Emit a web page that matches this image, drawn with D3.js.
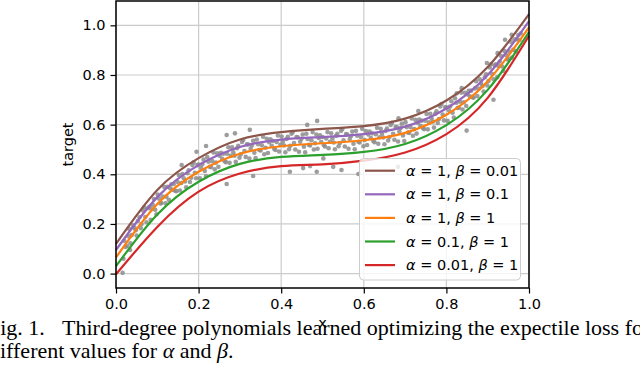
<!DOCTYPE html>
<html>
<head>
<meta charset="utf-8">
<title>Expectile polynomials</title>
<style>
  body { margin: 0; background: #fff; }
  svg { display: block; }
  .tick text { font-family: "DejaVu Sans", sans-serif; font-size: 14.5px; fill: #000; }
  .axislabel { font-family: "DejaVu Sans", sans-serif; font-size: 14.5px; }
  .legend text { font-family: "DejaVu Sans", sans-serif; font-size: 14.5px; }
  .caption { font-family: "Liberation Serif", "Times New Roman", serif; font-size: 22px; }
</style>
</head>
<body>
<svg width="640" height="367"></svg>
<script src="https://cdn.jsdelivr.net/npm/d3@7"></script>
<script>
var xs = [0, 0.1, 0.2, 0.3, 0.4, 0.5, 0.6, 0.7, 0.8, 0.9, 1.0];

// fitted polynomials, read at xs
var brown  = [0.120, 0.337, 0.465, 0.540, 0.570, 0.583, 0.594, 0.624, 0.697, 0.832, 1.045];
var purple = [0.095, 0.308, 0.437, 0.510, 0.540, 0.550, 0.562, 0.592, 0.665, 0.800, 1.017];
var orange = [0.065, 0.280, 0.410, 0.483, 0.513, 0.525, 0.537, 0.567, 0.640, 0.775, 0.992];
var green  = [0.030, 0.238, 0.370, 0.442, 0.470, 0.478, 0.490, 0.522, 0.598, 0.740, 0.973];
var red    = [-0.003, 0.188, 0.330, 0.403, 0.433, 0.440, 0.455, 0.488, 0.562, 0.708, 0.958];

var seriesParts = [["α", " = 1, ", "β", " = 0.01"], ["α", " = 1, ", "β", " = 0.1"], ["α", " = 1, ", "β", " = 1"],
                   ["α", " = 0.1, ", "β", " = 1"], ["α", " = 0.01, ", "β", " = 1"]];
var seriesColors = ["#8c564b", "#9467bd", "#ff7f0e", "#2ca02c", "#d62728"];

// scatter samples (x, target)
var pts = [
[0.020,0.132],[0.027,0.111],[0.032,0.180],[0.038,0.155],[0.045,0.184],[0.050,0.153],[0.057,0.227],[0.062,0.200],
[0.068,0.267],[0.074,0.207],[0.081,0.269],[0.086,0.259],[0.092,0.300],[0.098,0.239],[0.104,0.302],[0.110,0.284],
[0.117,0.349],[0.122,0.310],[0.128,0.297],[0.134,0.360],[0.140,0.361],[0.146,0.332],[0.152,0.397],[0.158,0.365],
[0.164,0.384],[0.170,0.348],[0.176,0.416],[0.182,0.386],[0.188,0.448],[0.194,0.384],[0.200,0.439],[0.206,0.425],
[0.212,0.459],[0.218,0.392],[0.224,0.451],[0.230,0.429],[0.236,0.488],[0.242,0.447],[0.248,0.430],[0.254,0.487],
[0.260,0.483],[0.266,0.449],[0.272,0.509],[0.278,0.474],[0.284,0.489],[0.290,0.450],[0.296,0.515],[0.302,0.481],
[0.308,0.538],[0.314,0.470],[0.320,0.520],[0.326,0.503],[0.332,0.535],[0.338,0.465],[0.344,0.521],[0.350,0.496],
[0.356,0.551],[0.362,0.507],[0.368,0.486],[0.374,0.541],[0.380,0.534],[0.386,0.498],[0.392,0.556],[0.398,0.519],
[0.404,0.531],[0.410,0.489],[0.416,0.551],[0.422,0.515],[0.428,0.570],[0.434,0.500],[0.440,0.549],[0.446,0.531],
[0.452,0.560],[0.458,0.489],[0.464,0.542],[0.470,0.516],[0.476,0.570],[0.482,0.525],[0.488,0.503],[0.494,0.557],
[0.500,0.550],[0.506,0.512],[0.512,0.570],[0.518,0.531],[0.524,0.544],[0.530,0.501],[0.536,0.563],[0.542,0.526],
[0.548,0.582],[0.554,0.512],[0.560,0.560],[0.566,0.542],[0.572,0.572],[0.578,0.501],[0.584,0.555],[0.590,0.528],
[0.596,0.583],[0.602,0.538],[0.608,0.518],[0.614,0.572],[0.620,0.565],[0.626,0.529],[0.632,0.587],[0.638,0.549],
[0.644,0.563],[0.650,0.521],[0.656,0.584],[0.662,0.550],[0.668,0.607],[0.674,0.539],[0.680,0.589],[0.686,0.572],
[0.692,0.604],[0.698,0.534],[0.704,0.590],[0.710,0.567],[0.716,0.625],[0.722,0.582],[0.728,0.564],[0.734,0.620],
[0.740,0.616],[0.746,0.582],[0.752,0.643],[0.758,0.609],[0.764,0.626],[0.770,0.588],[0.776,0.654],[0.782,0.623],
[0.788,0.683],[0.794,0.617],[0.800,0.670],[0.806,0.658],[0.812,0.694],[0.818,0.629],[0.824,0.688],[0.830,0.668],
[0.836,0.729],[0.842,0.690],[0.848,0.675],[0.854,0.736],[0.860,0.737],[0.866,0.709],[0.872,0.775],[0.878,0.745],
[0.884,0.766],[0.890,0.733],[0.896,0.803],[0.902,0.776],[0.908,0.843],[0.914,0.783],[0.920,0.843],[0.926,0.836],
[0.932,0.877],[0.938,0.816],[0.944,0.881],[0.950,0.866],[0.956,0.934],[0.962,0.902],[0.968,0.894],[0.974,0.961],
[0.980,0.967],
[0.023,0.107],[0.030,0.150],[0.035,0.122],[0.041,0.195],[0.048,0.175],[0.053,0.212],[0.060,0.183],[0.065,0.254],
[0.071,0.228],[0.077,0.263],[0.084,0.217],[0.089,0.277],[0.095,0.257],[0.101,0.318],[0.107,0.283],[0.113,0.310],
[0.120,0.283],[0.125,0.350],[0.131,0.344],[0.137,0.338],[0.143,0.334],[0.149,0.369],[0.155,0.335],[0.161,0.401],
[0.167,0.371],[0.173,0.404],[0.179,0.369],[0.185,0.437],[0.191,0.406],[0.197,0.437],[0.203,0.384],[0.209,0.440],
[0.215,0.413],[0.221,0.469],[0.227,0.430],[0.233,0.453],[0.239,0.420],[0.245,0.485],[0.251,0.475],[0.257,0.462],
[0.263,0.453],[0.269,0.483],[0.275,0.446],[0.281,0.509],[0.287,0.475],[0.293,0.505],[0.299,0.467],[0.305,0.530],
[0.311,0.494],[0.317,0.521],[0.323,0.463],[0.329,0.516],[0.335,0.487],[0.341,0.540],[0.347,0.498],[0.353,0.517],
[0.359,0.481],[0.365,0.543],[0.371,0.529],[0.377,0.515],[0.383,0.503],[0.389,0.530],[0.395,0.492],[0.401,0.552],
[0.407,0.516],[0.413,0.542],[0.419,0.501],[0.425,0.563],[0.431,0.526],[0.437,0.550],[0.443,0.491],[0.449,0.543],
[0.455,0.511],[0.461,0.563],[0.467,0.519],[0.473,0.537],[0.479,0.500],[0.485,0.560],[0.491,0.546],[0.497,0.530],
[0.503,0.518],[0.509,0.544],[0.515,0.505],[0.521,0.565],[0.527,0.528],[0.533,0.555],[0.539,0.513],[0.545,0.575],
[0.551,0.537],[0.557,0.562],[0.563,0.503],[0.569,0.554],[0.575,0.523],[0.581,0.575],[0.587,0.531],[0.593,0.550],
[0.599,0.513],[0.605,0.574],[0.611,0.560],[0.617,0.546],[0.623,0.534],[0.629,0.561],[0.635,0.523],[0.641,0.583],
[0.647,0.548],[0.653,0.575],[0.659,0.536],[0.665,0.599],[0.671,0.563],[0.677,0.590],[0.683,0.532],[0.689,0.586],
[0.695,0.556],[0.701,0.610],[0.707,0.568],[0.713,0.590],[0.719,0.555],[0.725,0.619],[0.731,0.608],[0.737,0.595],
[0.743,0.586],[0.749,0.616],[0.755,0.581],[0.761,0.644],[0.767,0.612],[0.773,0.644],[0.779,0.607],[0.785,0.673],
[0.791,0.641],[0.797,0.670],[0.803,0.615],[0.809,0.673],[0.815,0.648],[0.821,0.706],[0.827,0.667],[0.833,0.692],
[0.839,0.661],[0.845,0.728],[0.851,0.722],[0.857,0.714],[0.863,0.710],[0.869,0.746],[0.875,0.715],[0.881,0.783],
[0.887,0.755],[0.893,0.791],[0.899,0.758],[0.905,0.830],[0.911,0.804],[0.917,0.839],[0.923,0.791],[0.929,0.854],
[0.935,0.834],[0.941,0.896],[0.947,0.863],[0.953,0.894],[0.959,0.870],[0.965,0.944],[0.971,0.943],[0.977,0.941],
// stray points
[0.016,0.003],[0.018,0.060],[0.034,0.095],[0.159,0.437],[0.195,0.491],[0.218,0.514],[0.268,0.558],[0.288,0.565],
[0.324,0.579],[0.332,0.393],[0.268,0.361],[0.463,0.599],[0.487,0.615],[0.421,0.410],[0.453,0.425],[0.470,0.433],
[0.486,0.410],[0.502,0.464],[0.526,0.430],[0.546,0.417],[0.732,0.655],[0.684,0.626],[0.587,0.401],[0.683,0.430],
[0.849,0.576],[0.837,0.747],[0.898,0.848],[0.924,0.888],[0.958,0.962],[0.914,0.700],[0.825,0.726],[0.942,0.942]
];

var xTicks = [0, 0.2, 0.4, 0.6, 0.8, 1.0];
var yTicks = [0, 0.2, 0.4, 0.6, 0.8, 1.0];

var svg = d3.select("svg");
var box = { l: 116, r: 529, t: 1, b: 288 };

var x = d3.scaleLinear().domain([0, 1]).range([box.l, box.r]);
var y = d3.scaleLinear().domain([-0.058, 1.098]).range([box.b, box.t]);

// grid
svg.append("g").selectAll("line").data(xTicks).enter().append("line")
    .attr("x1", d => x(d)).attr("x2", d => x(d))
    .attr("y1", box.t).attr("y2", box.b)
    .attr("stroke", "#cccccc").attr("stroke-width", 1.2);
svg.append("g").selectAll("line").data(yTicks).enter().append("line")
    .attr("x1", box.l).attr("x2", box.r)
    .attr("y1", d => y(d)).attr("y2", d => y(d))
    .attr("stroke", "#cccccc").attr("stroke-width", 1.2);

// scatter
svg.append("g").selectAll("circle").data(pts).enter().append("circle")
    .attr("cx", d => x(d[0])).attr("cy", d => y(d[1]))
    .attr("r", 2.3)
    .attr("fill", "#8c8c8c")
    .attr("fill-opacity", 0.85);

// curves
var allSeries = [brown, purple, orange, green, red];
var line = d3.line()
    .x(function (d, i) { return x(xs[i]); })
    .y(function (d) { return y(d); })
    .curve(d3.curveNatural);
svg.append("g").selectAll("path").data(allSeries).enter().append("path")
    .attr("d", line)
    .attr("fill", "none")
    .attr("stroke", (d, i) => seriesColors[i])
    .attr("stroke-width", 2.2);

// axes
var xAxis = d3.axisBottom(x).tickValues(xTicks).tickFormat(d3.format(".1f")).tickSize(5.5).tickPadding(5);
var yAxis = d3.axisLeft(y).tickValues(yTicks).tickFormat(d3.format(".1f")).tickSize(5.5).tickPadding(5);
svg.append("g").attr("transform", "translate(0," + box.b + ")").call(xAxis)
    .call(g => g.select(".domain").remove())
    .selectAll(".tick line").attr("stroke-width", 1.2);
svg.append("g").attr("transform", "translate(" + box.l + ",0)").call(yAxis)
    .call(g => g.select(".domain").remove())
    .selectAll(".tick line").attr("stroke-width", 1.2);

// frame
svg.append("rect")
    .attr("x", box.l).attr("y", box.t)
    .attr("width", box.r - box.l).attr("height", box.b - box.t)
    .attr("fill", "none").attr("stroke", "#000").attr("stroke-width", 1.5);

// legend
var lg = svg.append("g").attr("class", "legend");
lg.append("rect")
    .attr("x", 359.5).attr("y", 158.5).attr("width", 161).attr("height", 121.5)
    .attr("rx", 4)
    .attr("fill", "#fff").attr("fill-opacity", 0.8)
    .attr("stroke", "#cccccc").attr("stroke-width", 1);
seriesParts.forEach(function (parts, i) {
    var yy = 170.7 + i * 23.6;
    lg.append("line")
        .attr("x1", 365).attr("x2", 395).attr("y1", yy).attr("y2", yy)
        .attr("stroke", seriesColors[i]).attr("stroke-width", 2.2);
    var t = lg.append("text").attr("x", 406).attr("y", yy + 5);
    parts.forEach(function (p, j) {
        t.append("tspan").attr("font-style", j % 2 === 0 ? "italic" : null).text(p);
    });
});

// axis labels
svg.append("text").attr("class", "axislabel")
    .attr("x", (box.l + box.r) / 2).attr("y", 328)
    .attr("text-anchor", "middle").text("x");
svg.append("text").attr("class", "axislabel")
    .attr("transform", "translate(73," + ((box.t + box.b) / 2) + ") rotate(-90)")
    .attr("text-anchor", "middle").text("target");

// caption
var cap1 = svg.append("text").attr("class", "caption").attr("x", -12).attr("y", 335);
cap1.append("tspan").text("Fig. 1.");
cap1.append("tspan").attr("x", 62).text("Third-degree polynomials learned optimizing the expectile loss for");
var cap2 = svg.append("text").attr("class", "caption").attr("x", -11).attr("y", 358);
cap2.append("tspan").text("different values for ");
cap2.append("tspan").attr("font-style", "italic").text("α");
cap2.append("tspan").text(" and ");
cap2.append("tspan").attr("font-style", "italic").text("β");
cap2.append("tspan").text(".");
</script>
</body>
</html>
